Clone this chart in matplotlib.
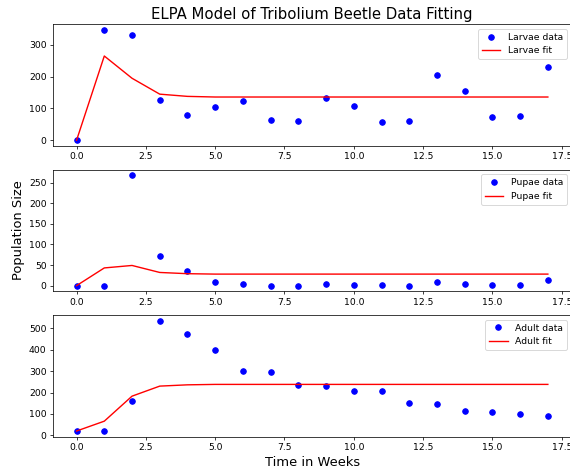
import matplotlib
matplotlib.use("Agg")
import matplotlib.pyplot as plt

weeks = list(range(18))
larvae_data = [0, 347, 331, 128, 79, 104, 123, 63, 60, 132, 107, 57, 60, 205, 155, 73, 76, 230]
larvae_fit = [0, 265, 195, 145, 138, 136, 136, 136, 136, 136, 136, 136, 136, 136, 136, 136, 136, 136]
pupae_data = [0, 0, 268, 72, 35, 9, 4, 0, 0, 3, 2, 2, 0, 9, 3, 2, 2, 14]
pupae_fit = [0, 43, 49, 32, 29, 28, 28, 28, 28, 28, 28, 28, 28, 28, 28, 28, 28, 28]
adult_data = [20, 20, 159, 536, 472, 400, 300, 294, 234, 231, 209, 209, 150, 147, 112, 109, 100, 91]
adult_fit = [20, 66, 183, 230, 236, 238, 238, 238, 238, 238, 238, 238, 238, 238, 238, 238, 238, 238]

DPI = 67
fig, axes = plt.subplots(3, 1, figsize=(570 / DPI, 475 / DPI), dpi=DPI)
fig.subplots_adjust(left=0.093, right=1.0025, top=0.9486, bottom=0.081, hspace=0.198)
series = [("Larvae", larvae_data, larvae_fit),
          ("Pupae", pupae_data, pupae_fit),
          ("Adult", adult_data, adult_fit)]
for ax, (name, d, f) in zip(axes, series):
    ax.plot(weeks, d, 'bo', label=f"{name} data")
    ax.plot(weeks, f, 'r-', label=f"{name} fit")
    ax.legend(loc='upper right')

axes[0].set_title("ELPA Model of Tribolium Beetle Data Fitting", fontsize=16)
axes[1].set_ylabel("Population Size", fontsize=14)
axes[2].set_xlabel("Time in Weeks", fontsize=14)
fig.savefig("out.png", dpi=DPI)
